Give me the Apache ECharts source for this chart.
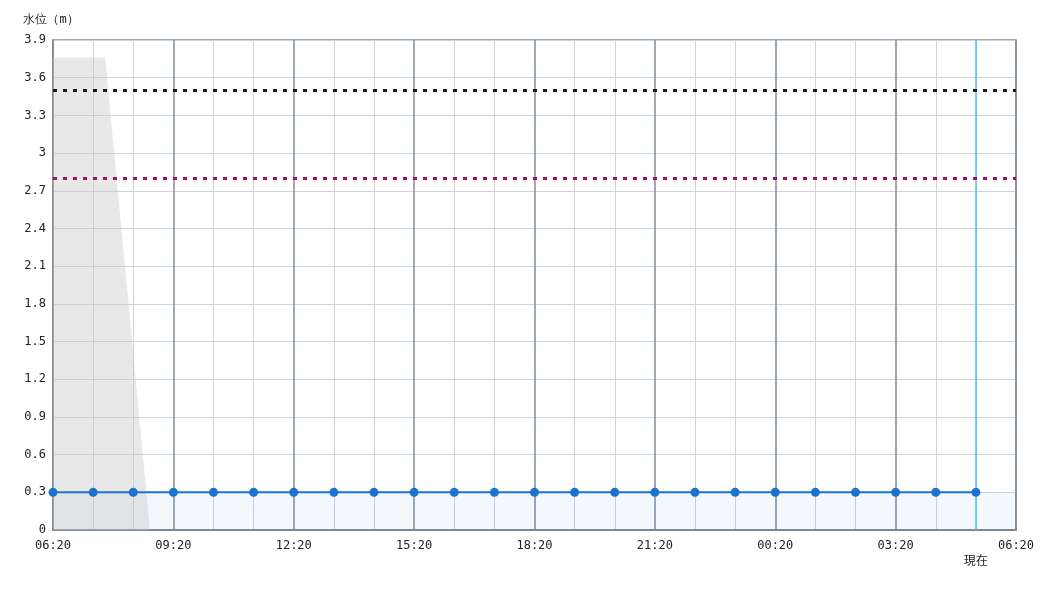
<!DOCTYPE html>
<html>
<head>
<meta charset="utf-8">
<script src="https://cdn.jsdelivr.net/npm/echarts@6/dist/echarts.min.js"></script>
<style>
  html, body { margin: 0; padding: 0; background: #fff; }
  #chart { width: 1050px; height: 600px; }
</style>
</head>
<body>
<div id="chart"></div>
<script>
// observation times (hourly) and water level values
const levelTimes = ['06:20', '07:20', '08:20', '09:20', '10:20', '11:20', '12:20', '13:20',
  '14:20', '15:20', '16:20', '17:20', '18:20', '19:20', '20:20', '21:20',
  '22:20', '23:20', '00:20', '01:20', '02:20', '03:20', '04:20', '05:20'];
const levelValues = [0.3, 0.3, 0.3, 0.3, 0.3, 0.3, 0.3, 0.3,
  0.3, 0.3, 0.3, 0.3, 0.3, 0.3, 0.3, 0.3,
  0.3, 0.3, 0.3, 0.3, 0.3, 0.3, 0.3, 0.3];

// grey shaded region at the start
const shadeTimes = ['06:20', '07:38', '08:45'];
const shadeValues = [3.76, 3.76, 0];

// reference levels
const dangerLevel = 3.5;
const warnLevel = 2.8;
const normalBand = [0, 0.3];
const nowTime = '05:20';

const xTickLabels = ['06:20', '09:20', '12:20', '15:20', '18:20', '21:20', '00:20', '03:20', '06:20'];

const startMin = 6 * 60 + 20;
function toHours(t) {
  const p = t.split(':');
  const m = parseInt(p[0], 10) * 60 + parseInt(p[1], 10);
  return ((m - startMin + 1440) % 1440) / 60;
}

const mono = '"DejaVu Sans Mono", monospace';
const dark = '#808b96';

const chart = echarts.init(document.getElementById('chart'));
chart.setOption({
  animation: false,
  grid: {
    left: 53, right: 34, top: 40, bottom: 70,
    show: true, borderColor: dark, borderWidth: 1.5, backgroundColor: 'transparent'
  },
  xAxis: {
    type: 'value',
    min: 0,
    max: 24,
    interval: 3,
    axisLine: { show: true, lineStyle: { color: dark, width: 2 } },
    axisTick: { show: false },
    axisLabel: {
      color: '#222', fontFamily: mono, fontSize: 12, margin: 10,
      formatter: (v) => xTickLabels[Math.round(v / 3)]
    },
    splitLine: { show: true, lineStyle: { color: dark, width: 1.5 } },
    minorTick: { show: false, splitNumber: 3 },
    minorSplitLine: { show: true, lineStyle: { color: '#cfd3d6', width: 1 } }
  },
  yAxis: {
    type: 'value',
    min: 0,
    max: 3.9,
    interval: 0.3,
    name: '水位（m）',
    nameGap: 14,
    nameTextStyle: { color: '#222', fontSize: 12, fontFamily: mono, align: 'center', padding: [0, 4, 0, 0] },
    axisLine: { show: true, lineStyle: { color: dark, width: 1.5 } },
    axisTick: { show: false },
    axisLabel: { color: '#222', fontFamily: mono, fontSize: 12, margin: 7 },
    splitLine: { show: true, lineStyle: { color: '#cbd5de', width: 1 } }
  },
  series: [
    {
      // background layer: normal band and "now" line
      name: 'ref',
      type: 'line',
      z: 1,
      silent: true,
      data: [],
      markArea: {
        silent: true,
        z: 1,
        itemStyle: { color: 'rgba(25,118,210,0.05)' },
        data: [[{ yAxis: normalBand[0], xAxis: 0 }, { yAxis: normalBand[1], xAxis: 24 }]]
      },
      markLine: {
        silent: true,
        z: 1,
        symbol: 'none',
        animation: false,
        data: [
          {
            xAxis: toHours(nowTime),
            lineStyle: { color: '#4fc3f7', type: 'solid', width: 1.5 },
            label: {
              show: true, position: 'start', distance: 24,
              formatter: '現在', color: '#222', fontSize: 12,
              fontFamily: '"Noto Sans CJK JP", sans-serif'
            }
          }
        ]
      }
    },
    {
      name: 'shade',
      type: 'line',
      z: 2,
      silent: true,
      symbol: 'none',
      lineStyle: { width: 0 },
      areaStyle: { color: '#c8c8c8', opacity: 0.42, origin: 'start' },
      data: shadeTimes.map((t, i) => [toHours(t), shadeValues[i]])
    },
    {
      name: '水位',
      type: 'line',
      z: 3,
      symbol: 'circle',
      symbolSize: 9,
      showAllSymbol: true,
      itemStyle: { color: '#1a73cc' },
      lineStyle: { color: '#1a73cc', width: 2 },
      data: levelTimes.map((t, i) => [toHours(t), levelValues[i]]),
      markLine: {
        silent: true,
        symbol: 'none',
        animation: false,
        label: { show: false },
        data: [
          { yAxis: dangerLevel, lineStyle: { color: '#1a1a1a', type: [4, 6], width: 3 } },
          { yAxis: warnLevel, lineStyle: { color: '#a0106c', type: [4, 6], width: 3 } }
        ]
      }
    }
  ]
});
</script>
</body>
</html>
